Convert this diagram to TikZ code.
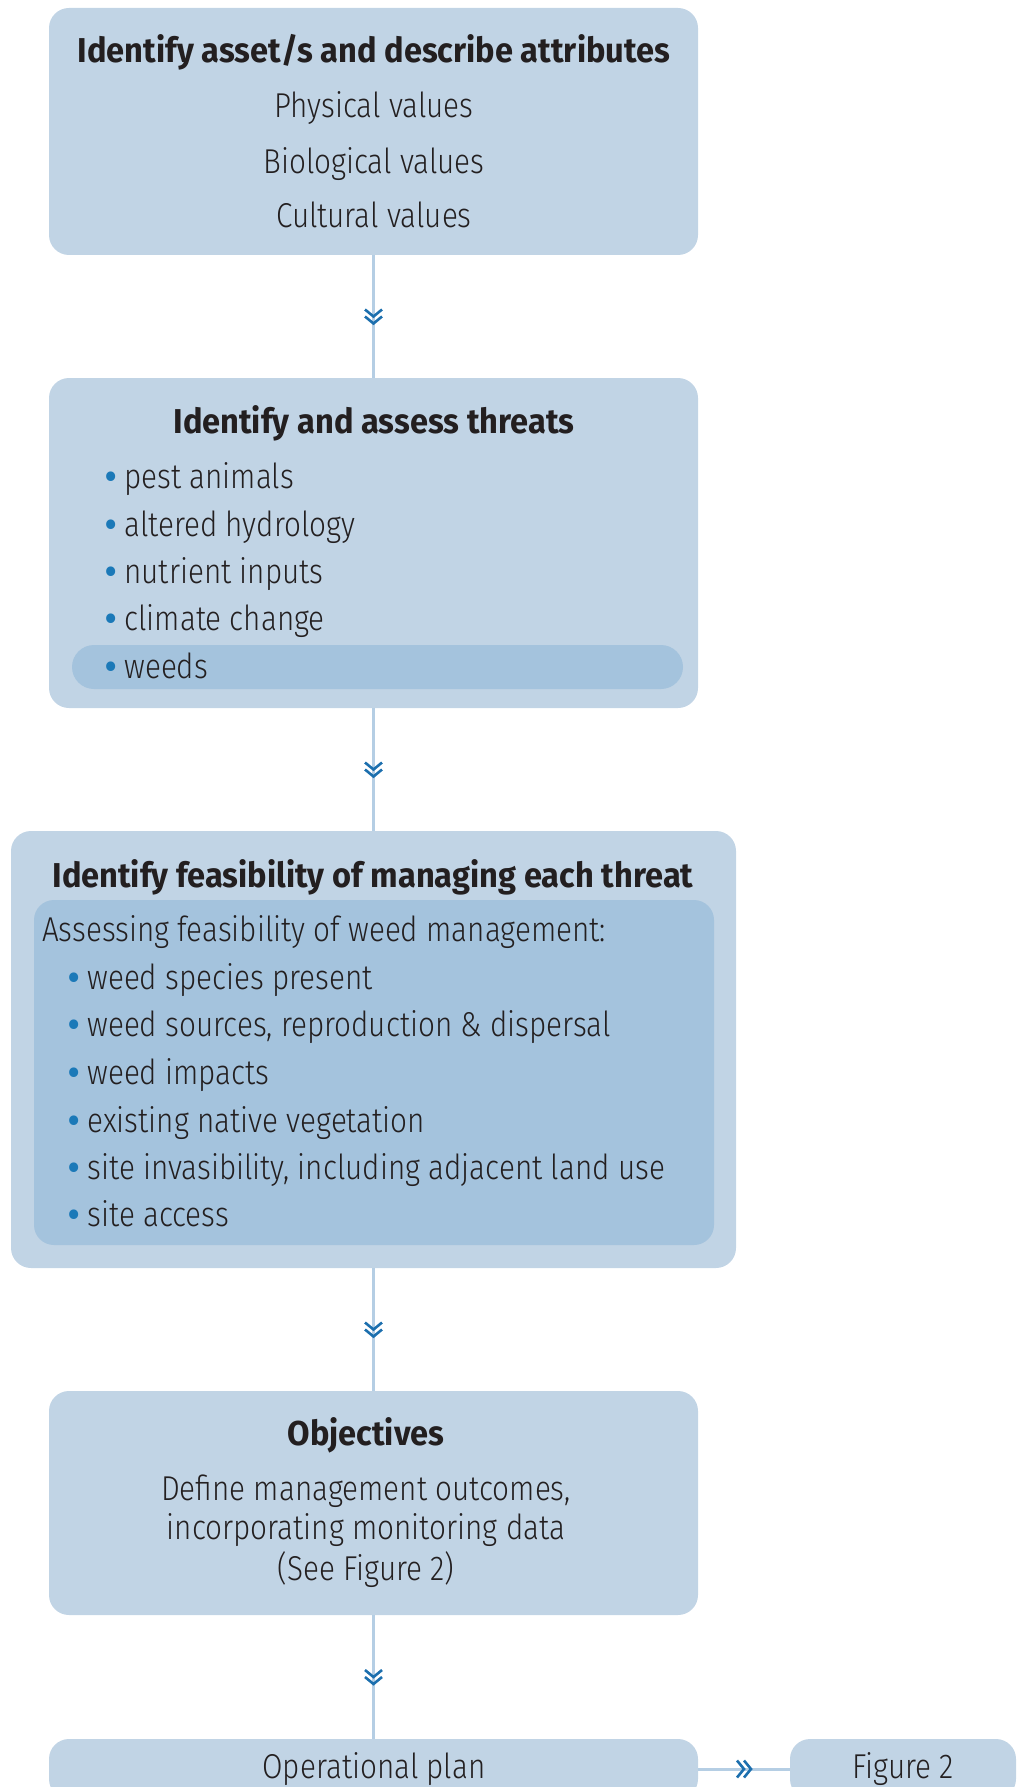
\documentclass[tikz,border=0pt]{standalone}
\usepackage{fontspec}
\setmainfont{Fira Sans}[UprightFont={* Light}, FakeStretch=0.86]
\newfontfamily\headfont{Fira Sans}[FakeStretch=0.945]
\usetikzlibrary{decorations.markings}

\definecolor{boxblue}{HTML}{C1D4E5}
\definecolor{markblue}{HTML}{A4C3DD}
\definecolor{linkblue}{HTML}{B5CEE4}
\definecolor{chevblue}{HTML}{1C6FAE}
\definecolor{dotblue}{HTML}{1B79B8}
\definecolor{inkgrey}{HTML}{231F20}

\newcommand{\blt}{{\headfont\bfseries\color{dotblue}\textbullet}\hspace{8pt}}

\begin{document}
\begin{tikzpicture}[x=1pt, y=-1pt]

        % Setup the styles for the boxes, the texts and the links
        \tikzset{stage box/.style={rectangle,
                                   fill=boxblue,
                                   rounded corners=20pt,
                                   minimum height=#1,
                                   minimum width=649pt,
                                   inner sep=0pt},
                 title text/.style={font=\fontsize{34.5}{40}\headfont\bfseries,
                                    text=inkgrey, inner sep=0pt, anchor=mid, yshift=-10pt},
                 plain text/.style={font=\fontsize{34.5}{40}\selectfont,
                                    text=inkgrey, inner sep=0pt, anchor=mid, yshift=-10pt},
                 item text/.style={plain text, anchor=mid west},
                 chevron link/.style={draw=linkblue,
                                      line width=3pt,
                                      postaction={decorate},
                                      decoration={markings,
                                        mark=at position 0.5 with {\draw[chevblue, line width=2.6pt]
                                          (0pt,-8.5pt) -- (7pt,0pt) -- (0pt,8.5pt)
                                          (-7pt,-8.5pt) -- (0pt,0pt) -- (-7pt,8.5pt);}}}}

        \useasboundingbox (0,0) rectangle (1024,1787);

        % Draw the boxes
        \node[stage box=247pt] at (373.5,131.5) (Assets) {};
        \node[stage box=330pt] at (373.5,543)   (Threats) {};
        \node[rectangle, fill=markblue, rounded corners=22pt,
              minimum width=611pt, minimum height=44pt] at (377.5,667) (Weeds) {};
        \node[stage box=437pt, minimum width=725pt] at (373.5,1049.5) (Feasibility) {};
        \node[rectangle, fill=markblue, rounded corners=20pt,
              minimum width=680pt, minimum height=345pt] at (374,1072.5) (Assessing) {};
        \node[stage box=224pt] at (373.5,1503) (Objectives) {};
        \node[stage box=60pt]  at (373.5,1769) (Operational) {};
        \node[stage box=60pt, minimum width=226pt] at (903,1769) (Figure) {};

        % Texts of the first box
        \node[title text] at (374,50)  (AssetsTitle) {Identify asset/s and describe attributes};
        \node[plain text] at (374,105) (Physical)    {Physical values};
        \node[plain text] at (374,161) (Biological)  {Biological values};
        \node[plain text] at (374,215) (Cultural)    {Cultural values};

        % Texts of the second box
        \node[title text] at (374,421) (ThreatsTitle) {Identify and assess threats};
        \node[item text] at (105,476) (Pest)      {\blt pest animals};
        \node[item text] at (105,524) (Hydrology) {\blt altered hydrology};
        \node[item text] at (105,571) (Nutrient)  {\blt nutrient inputs};
        \node[item text] at (105,618) (Climate)   {\blt climate change};
        \node[item text] at (105,666) (WeedsText) {\blt weeds};

        % Texts of the third box
        \node[title text] at (373,875) (FeasibilityTitle) {Identify feasibility of managing each threat};
        \node[item text] at (42,929)  (AssessingText) {Assessing feasibility of weed management:};
        \node[item text] at (68,977)  (Species)   {\blt weed species present};
        \node[item text] at (68,1024) (Sources)   {\blt weed sources, reproduction \& dispersal};
        \node[item text] at (68,1072) (Impacts)   {\blt weed impacts};
        \node[item text] at (68,1120) (Native)    {\blt existing native vegetation};
        \node[item text] at (68,1167) (Invasive)  {\blt site invasibility, including adjacent land use};
        \node[item text] at (68,1214) (Access)    {\blt site access};

        % Texts of the fourth box
        \node[title text] at (366,1433) (ObjectivesTitle) {Objectives};
        \node[plain text] at (366,1488) (Define)  {Define management outcomes,};
        \node[plain text] at (366,1527) (Monitor) {incorporating monitoring data};
        \node[plain text] at (366,1568) (SeeFig)  {(See Figure 2)};

        % Texts of the last two boxes
        \node[plain text] at (374,1766) (OperationalText) {Operational plan};
        \node[plain text] at (903,1766) (FigureText)      {Figure 2};

        % Connect the boxes
        \draw[chevron link] (Assets)      -- (Threats);
        \draw[chevron link] (Threats)     -- (Feasibility);
        \draw[chevron link] (Feasibility) -- (Objectives);
        \draw[chevron link] (Objectives)  -- (Operational);
        \draw[chevron link] (Operational) -- (Figure);

\end{tikzpicture}
\end{document}
